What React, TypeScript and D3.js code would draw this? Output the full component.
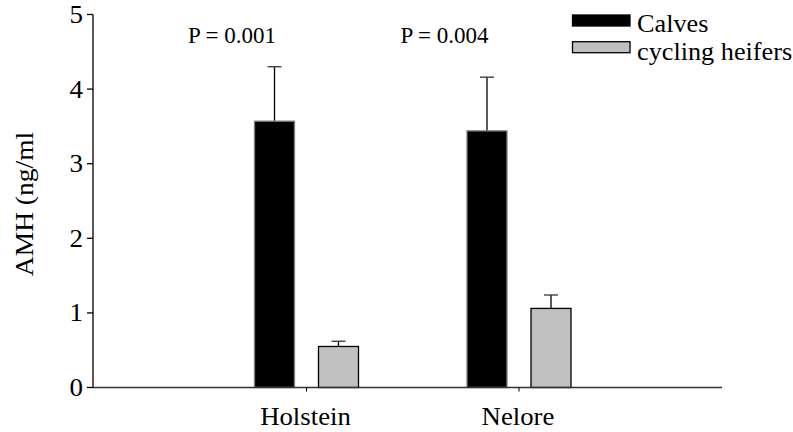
import * as d3 from "d3";

const breeds = ["Holstein", "Nelore"];
const groups = ["Calves", "cycling heifers"];
const means = [
  [3.57, 0.55],
  [3.44, 1.06],
];
const errors = [
  [0.73, 0.07],
  [0.72, 0.18],
];
const pValues = ["P = 0.001", "P = 0.004"];
const yTicks = [0, 1, 2, 3, 4, 5];

const W = 793;
const H = 432;
const font = "Liberation Serif, Times New Roman, serif";

// text with a slight horizontal stretch, the reference glyphs are a bit wide
function Label({
  x,
  y,
  size,
  sx = 1,
  anchor = "start",
  rotate = 0,
  dy,
  children,
}: {
  x: number;
  y: number;
  size: number;
  sx?: number;
  anchor?: string;
  rotate?: number;
  dy?: string;
  children: React.ReactNode;
}) {
  return (
    <g transform={`translate(${x},${y}) rotate(${rotate}) scale(${sx},1)`}>
      <text textAnchor={anchor} dy={dy} fontFamily={font} fontSize={size} fill="#000">
        {children}
      </text>
    </g>
  );
}

export default function App() {
  const y = d3.scaleLinear().domain([0, 5]).range([387.5, 14.5]);
  const x = d3.scalePoint<string>().domain(breeds).range([306.5, 519]);
  const sub = d3
    .scaleBand<string>()
    .domain(groups)
    .range([-52, 52])
    .paddingInner(0.375);
  const fills = ["#000000", "#c0c0c0"];
  const strokes = ["#808080", "#000000"];
  const axisX0 = 93;
  const axisX1 = 722;

  return (
    <div style={{ position: "absolute", left: 0, top: 0 }}>
      <svg width={W} height={H} style={{ display: "block", background: "#fff" }}>
        {/* bars + error bars */}
        {breeds.map((b, i) =>
          groups.map((g, j) => {
            const x0 = x(b)! + sub(g)!;
            const bw = sub.bandwidth();
            const cx = x0 + bw / 2;
            const top = y(means[i][j]);
            const errTop = y(means[i][j] + errors[i][j]);
            return (
              <g key={b + g}>
                <line x1={cx} x2={cx} y1={top} y2={errTop} stroke="#000" strokeWidth={1.3} />
                <line x1={cx - 7} x2={cx + 7} y1={errTop} y2={errTop} stroke="#333" strokeWidth={1.3} />
                <rect
                  x={x0}
                  y={top}
                  width={bw}
                  height={y(0) - top}
                  fill={fills[j]}
                  stroke={strokes[j]}
                  strokeWidth={1.3}
                />
              </g>
            );
          })
        )}

        {/* y axis */}
        <line x1={axisX0} x2={axisX0} y1={y(5)} y2={y(0)} stroke="#000" strokeWidth={1.3} />
        {yTicks.map((t) => (
          <g key={t}>
            <line x1={axisX0 - 6} x2={axisX0} y1={y(t)} y2={y(t)} stroke="#000" strokeWidth={1.3} />
            <Label x={83} y={y(t)} size={25} sx={1.08} anchor="end" dy="0.34em">
              {t}
            </Label>
          </g>
        ))}

        {/* x axis */}
        <line x1={axisX0} x2={axisX1} y1={y(0)} y2={y(0)} stroke="#333" strokeWidth={1.5} />
        {breeds.map((b) => (
          <g key={b}>
            <line x1={x(b)} x2={x(b)} y1={y(0)} y2={y(0) + 4} stroke="#000" strokeWidth={1} />
            <Label x={x(b)! - 1} y={425} size={25.5} sx={1.05} anchor="middle">
              {b}
            </Label>
          </g>
        ))}

        {/* p values */}
        {breeds.map((b, i) => (
          <Label key={b} x={x(b)! - 74.5} y={42.7} size={23} anchor="middle">
            {pValues[i]}
          </Label>
        ))}

        {/* y label */}
        <Label x={33} y={204} size={25} sx={1.1} rotate={-90} anchor="middle">
          AMH (ng/ml
        </Label>

        {/* legend */}
        {groups.map((g, j) => (
          <g key={g}>
            <rect
              x={572.5}
              y={15 + j * 26.7}
              width={57.5}
              height={11}
              fill={fills[j]}
              stroke="#000"
              strokeWidth={1.3}
            />
            <Label x={637} y={31.7 + j * 28.3} size={25} sx={1.05}>
              {g}
            </Label>
          </g>
        ))}
      </svg>
    </div>
  );
}
